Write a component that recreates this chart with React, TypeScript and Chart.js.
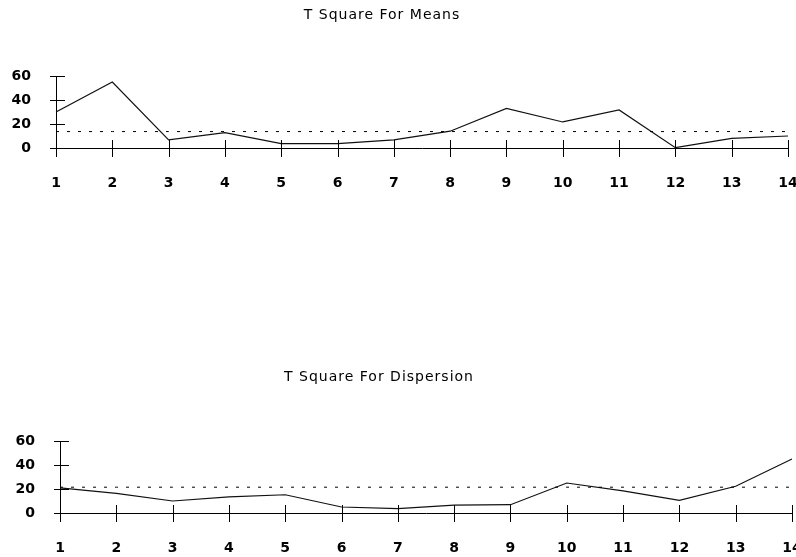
import React, { useEffect, useRef } from "react";
import { Chart, registerables } from "chart.js";

Chart.register(...registerables);

const categories = ["1", "2", "3", "4", "5", "6", "7", "8", "9", "10", "11", "12", "13", "14"];
const meansValues = [30, 55, 6.7, 12.8, 3.6, 3.6, 6.7, 14, 33, 21.7, 31.7, 0.3, 8, 10];
const meansLimit = 13.7;
const dispersionValues = [21, 16.3, 10, 13.5, 15.2, 5, 3.6, 6.6, 6.9, 25, 18.5, 10.5, 22.3, 45];
const dispersionLimit = 21.5;
const yMin = 0;
const yMax = 60;
const yStep = 20;

const FONT = "'DejaVu Sans', sans-serif";

type Geom = {
  width: number;
  height: number;
  left: number;
  right: number;
  top: number;
  bottom: number;
  titleX: number;
  titleY: number;
};

const titlePlugin = {
  id: "offsetTitle",
  afterDraw(chart: any, _args: any, opts: any) {
    const ctx = chart.ctx;
    ctx.save();
    ctx.font = `14px ${FONT}`;
    ctx.fillStyle = "#000";
    ctx.textAlign = "center";
    ctx.textBaseline = "middle";
    try {
      (ctx as any).letterSpacing = "1px";
    } catch (e) {}
    ctx.fillText(opts.text, opts.x, opts.y);
    ctx.restore();
  },
};

const crossTicksPlugin = {
  id: "crossTicks",
  afterDatasetsDraw(chart: any) {
    const xs = chart.scales.x;
    const ys = chart.scales.y;
    const area = chart.chartArea;
    const ctx = chart.ctx;
    ctx.save();
    ctx.strokeStyle = "#000";
    ctx.lineWidth = 1;
    ctx.beginPath();
    xs.ticks.forEach((_t: any, i: number) => {
      const px = Math.round(xs.getPixelForTick(i)) + 0.5;
      ctx.moveTo(px, area.bottom - 8);
      ctx.lineTo(px, area.bottom + 9);
    });
    ys.ticks.forEach((_t: any, i: number) => {
      const py = Math.round(ys.getPixelForTick(i)) + 0.5;
      ctx.moveTo(area.left - 6, py);
      ctx.lineTo(area.left + 9, py);
    });
    ctx.stroke();
    ctx.restore();
  },
};

function makeConfig(title: string, values: number[], limit: number, g: Geom): any {
  return {
    type: "line",
    data: {
      labels: categories,
      datasets: [
        {
          data: categories.map(() => limit),
          borderColor: "#000",
          borderWidth: 1,
          borderDash: [3, 8],
          pointRadius: 0,
          fill: false,
          tension: 0,
        },
        {
          data: values,
          borderColor: "#111",
          borderWidth: 1.2,
          pointRadius: 0,
          fill: false,
          tension: 0,
        },
      ],
    },
    options: {
      responsive: false,
      animation: false,
      events: [],
      layout: {
        padding: { top: g.top, left: 0, right: g.width - g.right, bottom: 0 },
      },
      plugins: {
        legend: { display: false },
        title: { display: false },
        tooltip: { enabled: false },
        offsetTitle: { text: title, x: g.titleX, y: g.titleY },
      },
      scales: {
        x: {
          type: "category",
          offset: false,
          grid: { display: true, drawOnChartArea: false, drawTicks: false },
          border: { display: true, color: "#000", width: 1 },
          ticks: {
            color: "#000",
            font: { family: FONT, size: 14, weight: "bold" },
            padding: 27,
            maxRotation: 0,
            autoSkip: false,
          },
          afterFit(scale: any) {
            scale.height = g.height - g.bottom;
            scale.paddingLeft = 0;
            scale.paddingRight = 0;
          },
        },
        y: {
          min: yMin,
          max: yMax,
          grid: { display: true, drawOnChartArea: false, drawTicks: false },
          border: { display: true, color: "#000", width: 1 },
          ticks: {
            stepSize: yStep,
            color: "#000",
            font: { family: FONT, size: 14, weight: "bold" },
            padding: 25,
          },
          afterFit(scale: any) {
            scale.width = g.left;
            scale.paddingTop = 0;
            scale.paddingBottom = 0;
          },
        },
      },
    },
    plugins: [titlePlugin, crossTicksPlugin],
  };
}

const topGeom: Geom = { width: 796, height: 200, left: 56, right: 788, top: 76, bottom: 148, titleX: 382, titleY: 15 };
const bottomGeom: Geom = { width: 796, height: 197, left: 60, right: 792, top: 81, bottom: 153, titleX: 379, titleY: 17 };

function ChartCanvas({ title, values, limit, g, top }: { title: string; values: number[]; limit: number; g: Geom; top: number }) {
  const ref = useRef<HTMLCanvasElement | null>(null);
  useEffect(() => {
    if (!ref.current) return;
    const chart = new Chart(ref.current, makeConfig(title, values, limit, g));
    return () => chart.destroy();
  }, []);
  return (
    <canvas
      ref={ref}
      width={g.width}
      height={g.height}
      style={{ position: "absolute", left: 0, top, width: g.width, height: g.height, display: "block" }}
    />
  );
}

export default function App() {
  return (
    <div style={{ position: "absolute", left: 0, top: 0, width: 796, height: 557, background: "#fff", overflow: "hidden" }}>
      <ChartCanvas title="T Square For Means" values={meansValues} limit={meansLimit} g={topGeom} top={0} />
      <ChartCanvas title="T Square For Dispersion" values={dispersionValues} limit={dispersionLimit} g={bottomGeom} top={360} />
    </div>
  );
}
